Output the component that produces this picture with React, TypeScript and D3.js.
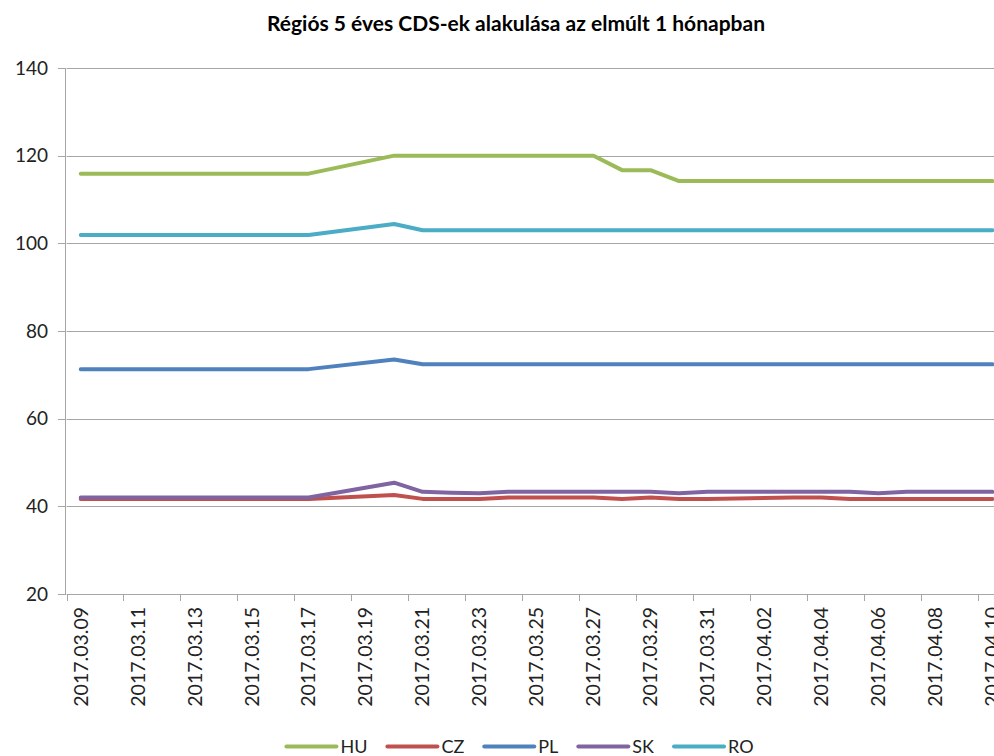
import React, { useEffect, useRef } from 'react';
import * as d3 from 'd3';

const title = 'Régiós 5 éves CDS-ek alakulása az elmúlt 1 hónapban';

// trading days (weekends are missing, the line joins across them)
const dates = [
  '2017.03.09', '2017.03.10', '2017.03.13', '2017.03.14', '2017.03.15', '2017.03.16', '2017.03.17',
  '2017.03.20', '2017.03.21', '2017.03.22', '2017.03.23', '2017.03.24',
  '2017.03.27', '2017.03.28', '2017.03.29', '2017.03.30', '2017.03.31',
  '2017.04.03', '2017.04.04', '2017.04.05', '2017.04.06', '2017.04.07',
  '2017.04.10',
];

const HU = [115.9, 115.9, 115.9, 115.9, 115.9, 115.9, 115.9, 120, 120, 120, 120, 120, 120, 116.7, 116.7, 114.2, 114.2, 114.2, 114.2, 114.2, 114.2, 114.2, 114.2];
const CZ = [41.7, 41.7, 41.7, 41.7, 41.7, 41.7, 41.7, 42.6, 41.7, 41.7, 41.7, 42.0, 42.0, 41.7, 42.0, 41.7, 41.7, 42.0, 42.0, 41.7, 41.7, 41.7, 41.7];
const PL = [71.3, 71.3, 71.3, 71.3, 71.3, 71.3, 71.3, 73.5, 72.4, 72.4, 72.4, 72.4, 72.4, 72.4, 72.4, 72.4, 72.4, 72.4, 72.4, 72.4, 72.4, 72.4, 72.4];
const SK = [42.0, 42.0, 42.0, 42.0, 42.0, 42.0, 42.0, 45.4, 43.3, 43.1, 43.0, 43.3, 43.3, 43.3, 43.3, 43.0, 43.3, 43.3, 43.3, 43.3, 43.0, 43.3, 43.3];
const RO = [101.9, 101.9, 101.9, 101.9, 101.9, 101.9, 101.9, 104.4, 103.0, 103.0, 103.0, 103.0, 103.0, 103.0, 103.0, 103.0, 103.0, 103.0, 103.0, 103.0, 103.0, 103.0, 103.0];

const seriesNames = ['HU', 'CZ', 'PL', 'SK', 'RO'];
const seriesValues = [HU, CZ, PL, SK, RO];
const colors = ['#9bbb59', '#c0504d', '#4f81bd', '#8064a2', '#4bacc6'];

const xTickLabels = [
  '2017.03.09', '2017.03.11', '2017.03.13', '2017.03.15', '2017.03.17', '2017.03.19',
  '2017.03.21', '2017.03.23', '2017.03.25', '2017.03.27', '2017.03.29', '2017.03.31',
  '2017.04.02', '2017.04.04', '2017.04.06', '2017.04.08', '2017.04.10',
];
const yTicks = [20, 40, 60, 80, 100, 120, 140];

const width = 994;
const height = 756;
const font = 'Lato, "Open Sans", sans-serif';

function drawChart(el: SVGSVGElement) {
  const svg = d3.select(el);
  svg.selectAll('*').remove();

  const parse = d3.utcParse('%Y.%m.%d');
  const marginLeft = 66.5;
  const plotTop = 68;
  const plotBottom = 594;

  // date axis: ticks on day boundaries, points in the middle of the day
  const x = d3
    .scaleUtc()
    .domain([parse('2017.03.09')!, parse('2017.04.10')!])
    .range([marginLeft, 978.2]);
  const mid = (s: string) => x(d3.utcHour.offset(parse(s)!, 12));

  const y = d3.scaleLinear().domain([20, 140]).range([plotBottom, plotTop]);

  svg
    .append('text')
    .attr('x', 516)
    .attr('y', 31)
    .attr('text-anchor', 'middle')
    .attr('font-family', font)
    .attr('font-weight', 'bold')
    .attr('font-size', 21)
    .attr('fill', '#000')
    .text(title);

  // gridlines
  svg
    .append('g')
    .selectAll('line')
    .data(yTicks.filter((d) => d !== 20))
    .join('line')
    .attr('x1', marginLeft)
    .attr('x2', width)
    .attr('y1', (d) => Math.round(y(d)) + 0.5)
    .attr('y2', (d) => Math.round(y(d)) + 0.5)
    .attr('stroke', '#a6a6a6');

  // y axis
  const yAxis = svg.append('g');
  yAxis
    .append('line')
    .attr('x1', 65.5)
    .attr('x2', 65.5)
    .attr('y1', plotTop)
    .attr('y2', plotBottom + 0.5)
    .attr('stroke', '#a6a6a6');
  yAxis
    .selectAll('line.tick')
    .data(yTicks)
    .join('line')
    .attr('class', 'tick')
    .attr('x1', 58)
    .attr('x2', 66)
    .attr('y1', (d) => Math.round(y(d)) + 0.5)
    .attr('y2', (d) => Math.round(y(d)) + 0.5)
    .attr('stroke', '#a6a6a6');
  yAxis
    .selectAll('text')
    .data(yTicks)
    .join('text')
    .attr('x', 48)
    .attr('y', (d) => y(d))
    .attr('dy', '0.35em')
    .attr('text-anchor', 'end')
    .attr('font-family', font)
    .attr('font-size', 19)
    .attr('fill', '#222')
    .text((d) => d);

  // x axis
  const xAxis = svg.append('g');
  xAxis
    .append('line')
    .attr('x1', marginLeft)
    .attr('x2', width)
    .attr('y1', plotBottom + 0.5)
    .attr('y2', plotBottom + 0.5)
    .attr('stroke', '#a6a6a6');
  xAxis
    .selectAll('line.tick')
    .data(xTickLabels)
    .join('line')
    .attr('class', 'tick')
    .attr('x1', (d) => Math.round(x(parse(d)!)) + 0.5)
    .attr('x2', (d) => Math.round(x(parse(d)!)) + 0.5)
    .attr('y1', plotBottom)
    .attr('y2', plotBottom + 7)
    .attr('stroke', '#a6a6a6');
  xAxis
    .selectAll('text')
    .data(xTickLabels)
    .join('text')
    .attr('transform', (d) => `translate(${mid(d)},607) rotate(-90)`)
    .attr('dy', '0.35em')
    .attr('text-anchor', 'end')
    .attr('font-family', font)
    .attr('font-size', 19.5)
    .attr('fill', '#222')
    .text((d) => d);

  // lines
  const line = d3
    .line<[string, number]>()
    .x((d) => mid(d[0]))
    .y((d) => y(d[1]));

  svg
    .append('g')
    .attr('fill', 'none')
    .attr('stroke-width', 4)
    .attr('stroke-linecap', 'round')
    .attr('stroke-linejoin', 'round')
    .selectAll('path')
    .data(seriesValues)
    .join('path')
    .attr('stroke', (_, i) => colors[i])
    .attr('d', (vals) => line(dates.map((dt, i) => [dt, vals[i]] as [string, number])));

  // legend, measured then centred
  const legendY = 746.5;
  const legend = svg.append('g');
  const items = legend
    .selectAll('g')
    .data(seriesNames)
    .join('g');
  items
    .append('line')
    .attr('x1', 0)
    .attr('x2', 50)
    .attr('y1', legendY)
    .attr('y2', legendY)
    .attr('stroke', (_, i) => colors[i])
    .attr('stroke-width', 4)
    .attr('stroke-linecap', 'round');
  items
    .append('text')
    .attr('x', 54)
    .attr('y', legendY)
    .attr('dy', '0.35em')
    .attr('font-family', font)
    .attr('font-size', 18)
    .attr('fill', '#222')
    .text((d) => d);

  let offset = 0;
  const offsets: number[] = [];
  items.each(function () {
    offsets.push(offset);
    const w = (d3.select(this).select('text').node() as SVGTextElement).getComputedTextLength();
    offset += 54 + w + 20;
  });
  const total = offset - 20;
  const start = 520 - total / 2;
  items.attr('transform', (_, i) => `translate(${start + offsets[i]},0)`);
}

export default function App() {
  const ref = useRef<SVGSVGElement>(null);
  useEffect(() => {
    if (ref.current) drawChart(ref.current);
  }, []);
  return (
    <div style={{ position: 'absolute', left: 0, top: 0 }}>
      <svg ref={ref} width={width} height={height} style={{ display: 'block', background: '#fff' }} />
    </div>
  );
}
